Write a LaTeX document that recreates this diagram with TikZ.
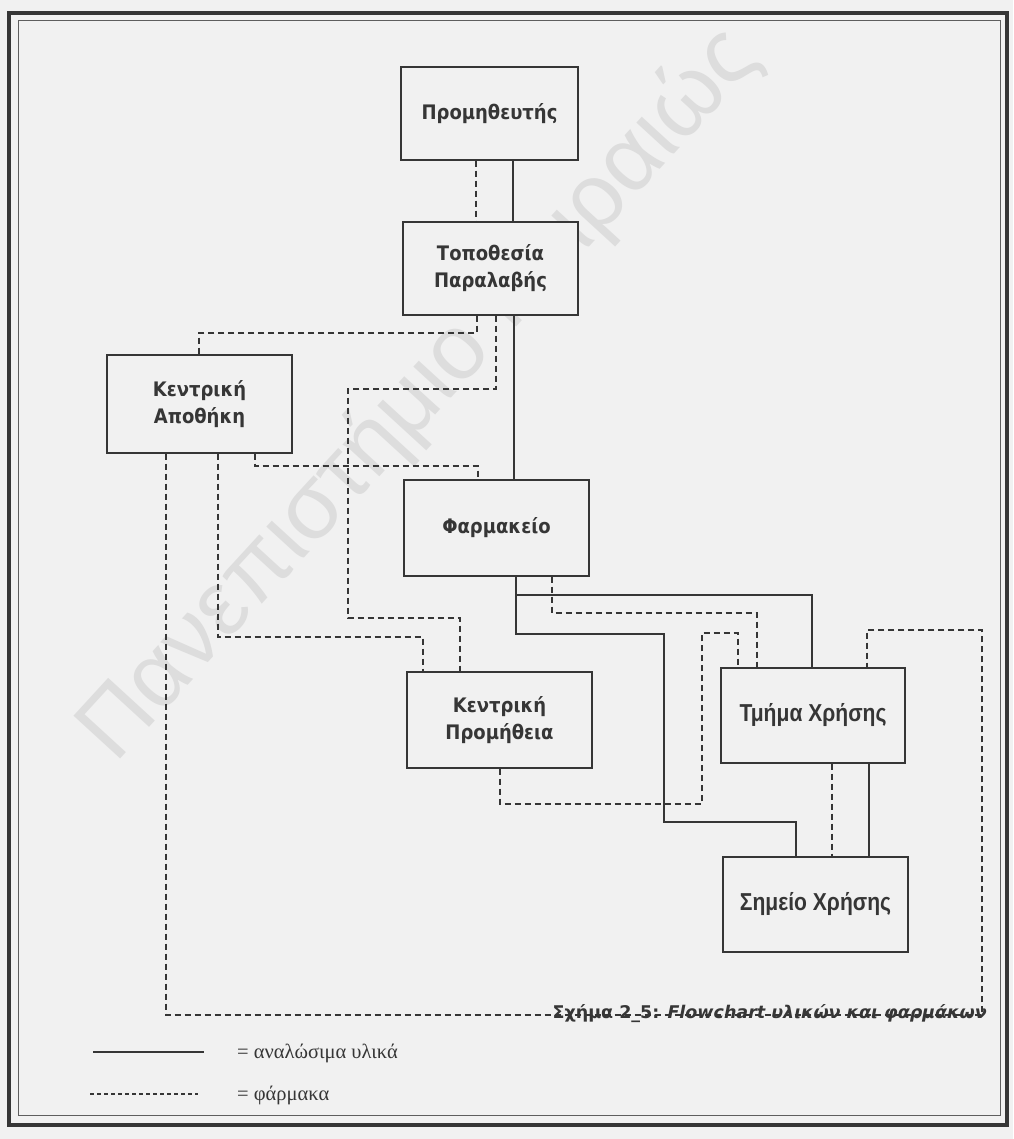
\documentclass[tikz,border=0pt]{standalone}
\usepackage{fontspec}
\setmainfont{Liberation Serif}
\newfontfamily\legfont{Liberation Serif}
\newfontfamily\boxfont[FakeStretch=0.9]{DejaVu Sans}
\newfontfamily\narrowfont[FakeStretch=0.86]{Liberation Sans}
\newfontfamily\capfont{DejaVu Sans}
\newfontfamily\wmfont{Liberation Sans}
\definecolor{ink}{HTML}{363636}
\definecolor{paper}{HTML}{F1F1F1}
\definecolor{wm}{HTML}{DDDDDD}
\tikzset{
  stepbox/.style={draw=ink, line width=1.3pt, fill=paper, inner sep=0pt, align=center,
    text=ink, font=\boxfont\bfseries\fontsize{20}{27}\selectfont},
  narrowbox/.style={stepbox, font=\narrowfont\bfseries\fontsize{24.5}{28}\selectfont},
  cons/.style={draw=ink, line width=1.4pt},
  drug/.style={draw=ink, line width=1.3pt, dash pattern=on 6pt off 4pt},
  legtext/.style={text=ink, inner sep=0pt, font=\legfont\fontsize{20.5}{22}\selectfont}
}
\begin{document}
\begin{tikzpicture}[x=1pt,y=-1pt]
\useasboundingbox (0,0) rectangle (1013,1139);
\fill[paper] (0,0) rectangle (1013,1139);
% watermark
\node[rotate=47.5, text=wm, inner sep=0pt, font=\wmfont\fontsize{92}{92}\selectfont] (wmark) at (420,395) {Πανεπιστήμιο Πειραιώς};
% frame
\draw[ink, line width=4.5pt] (9,13) rectangle (1007,1125);
\draw[ink!80, line width=1pt] (18,21) rectangle (1000,1115);

% boxes
\node[stepbox, minimum width=177pt, minimum height=93pt] (prom) at (489.5,113.5) {Προμηθευτής};
\node[stepbox, minimum width=175pt, minimum height=93pt] (topo) at (490.5,268.5) {Τοποθεσία\\Παραλαβής};
\node[stepbox, minimum width=185pt, minimum height=98pt] (apoth) at (199.5,404) {Κεντρική\\Αποθήκη};
\node[stepbox, minimum width=185pt, minimum height=96pt] (farm) at (496.5,528) {Φαρμακείο};
\node[stepbox, minimum width=185pt, minimum height=96pt] (kprom) at (499.5,720) {Κεντρική\\Προμήθεια};
\node[narrowbox, minimum width=184pt, minimum height=95pt] (tmima) at (813,715.5) {Τμήμα Χρήσης};
\node[narrowbox, minimum width=185pt, minimum height=95pt] (simeio) at (815.5,904.5) {Σημείο Χρήσης};

% connectors: consumables (solid)
\draw[cons] (513,0 |- prom.south) -- (513,0 |- topo.north);
\draw[cons] (514,0 |- topo.south) -- (514,0 |- farm.north);
\draw[cons] (516,0 |- farm.south) -- (516,634) -- (664,634) -- (664,822) -- (796,822) -- (796,0 |- simeio.north);
\draw[cons] (516,595) -- (812,595) -- (812,0 |- tmima.north);
\draw[cons] (869,0 |- tmima.south) -- (869,0 |- simeio.north);

% connectors: drugs (dashed)
\draw[drug] (476,0 |- prom.south) -- (476,0 |- topo.north);
\draw[drug] (477,0 |- topo.south) -- (477,333) -- (199,333) -- (199,0 |- apoth.north);
\draw[drug] (496,0 |- topo.south) -- (496,389) -- (348,389) -- (348,618) -- (460,618) -- (460,0 |- kprom.north);
\draw[drug] (255,0 |- apoth.south) -- (255,466) -- (478,466) -- (478,0 |- farm.north);
\draw[drug] (218,0 |- apoth.south) -- (218,637) -- (423,637) -- (423,0 |- kprom.north);
\draw[drug] (166,0 |- apoth.south) -- (166,1015) -- (982,1015) -- (982,630) -- (867,630) -- (867,0 |- tmima.north);
\draw[drug] (552,0 |- farm.south) -- (552,613) -- (757,613) -- (757,0 |- tmima.north);
\draw[drug] (500,0 |- kprom.south) -- (500,804) -- (702,804) -- (702,633) -- (738,633) -- (738,0 |- tmima.north);
\draw[drug] (832,0 |- tmima.south) -- (832,0 |- simeio.north);

% caption
\node[anchor=base east, inner sep=0pt, text=ink, font=\capfont\bfseries\fontsize{17.5}{20}\selectfont] (cap) at (987,1018) {Σχήμα 2\_5: \textit{Flowchart υλικών και φαρμάκων}};

% legend
\coordinate (l1a) at (93,1052);
\coordinate (l1b) at (204,1052);
\coordinate (l2a) at (90,1094);
\coordinate (l2b) at (198,1094);
\draw[ink, line width=1.2pt] (l1a) -- (l1b);
\draw[ink, line width=1.1pt, dash pattern=on 4pt off 3pt] (l2a) -- (l2b);
\node[legtext, anchor=base west] (t1) at (237,1058) {= αναλώσιμα υλικά};
\node[legtext, anchor=base west] (t2) at (237,1100) {= φάρμακα};
\end{tikzpicture}
\end{document}
